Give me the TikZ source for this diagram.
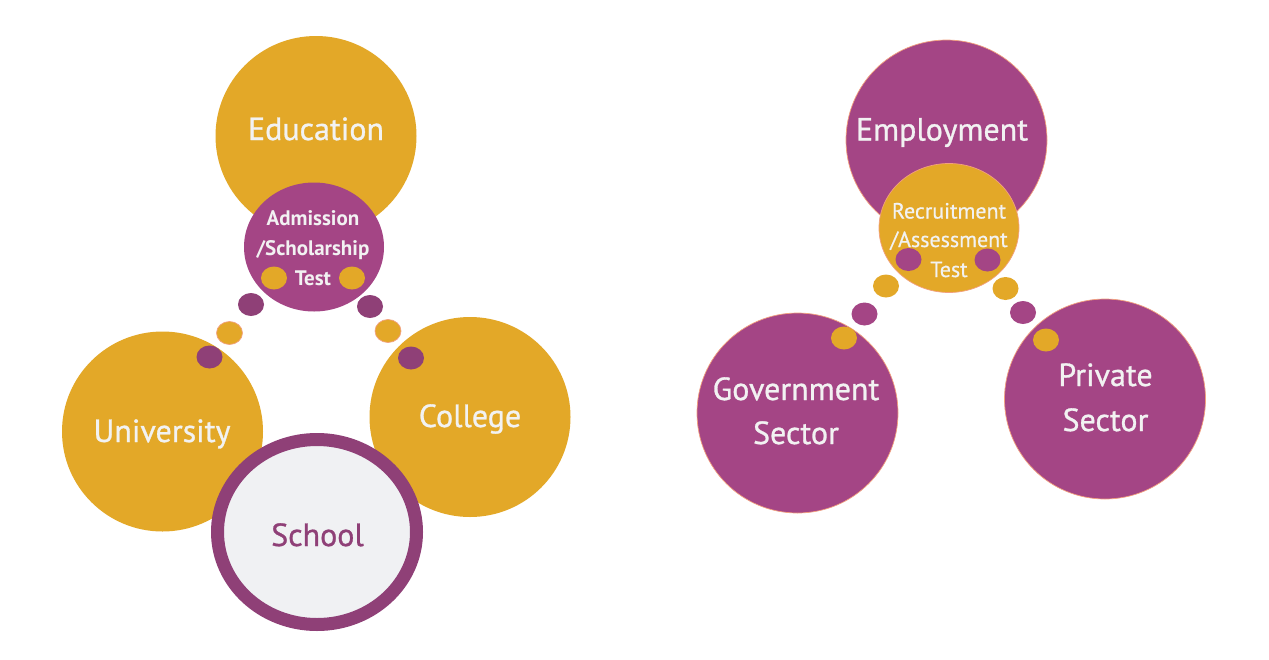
\documentclass[tikz,border=0pt]{standalone}
\usepackage{fontspec}
\setmainfont{PT Sans}
\newfontfamily\medfont[FakeBold=0.9]{PT Sans}
\newfontfamily\semifont[FakeBold=0.6]{PT Sans}
\usetikzlibrary{shapes.geometric}
\definecolor{gold}{HTML}{E3A828}
\definecolor{plum}{HTML}{A44585}
\definecolor{plumdark}{HTML}{8F4077}
\definecolor{txtlight}{HTML}{F2F2F2}
\definecolor{schoolfill}{HTML}{F0F1F3}
\definecolor{rim}{HTML}{F2A07E}
\tikzset{
  blob/.style={ellipse, inner sep=0pt, outer sep=0pt},
  bigc/.style={blob, minimum width=201pt, minimum height=200pt},
  midc/.style={blob, minimum width=140pt, minimum height=129pt},
  dotc/.style={blob, minimum width=26pt, minimum height=23pt},
  rimmed/.style={draw=rim, line width=0.7pt},
  bigtxt/.style={anchor=base, inner sep=0pt, text=txtlight, font=\medfont\fontsize{32}{32}\selectfont},
  admtxt/.style={anchor=base, inner sep=0pt, text=txtlight, font=\bfseries\fontsize{21}{21}\selectfont},
  rectxt/.style={anchor=base, inner sep=0pt, text=txtlight, font=\semifont\fontsize{22}{22}\selectfont},
  schooltxt/.style={anchor=base, inner sep=0pt, text=plumdark, font=\medfont\fontsize{32}{32}\selectfont}
}
\begin{document}
\begin{tikzpicture}[x=1pt,y=-1pt]
\useasboundingbox[fill=white] (0,0) rectangle (1269,659);
% ---------------- left diagram ----------------
\node[bigc, fill=gold] (edu) at (316,136) {};
\node[midc, fill=plum] (adm) at (314,247) {};
\node[bigc, fill=gold] (uni) at (162.5,431.5) {};
\node[bigc, fill=gold] (col) at (470,417) {};
\node[blob, minimum width=199pt, minimum height=185pt, fill=schoolfill, draw=plumdark, line width=13pt] (sch) at (317,532) {};
% dots
\node[dotc, fill=gold] (ad1) at (274,278) {};
\node[dotc, fill=gold] (ad2) at (352,278) {};
\node[dotc, fill=plumdark] (ul1) at (251,304.5) {};
\node[dotc, fill=gold, rimmed] (ul2) at (229.5,333) {};
\node[dotc, fill=plumdark] (ul3) at (209.5,357) {};
\node[dotc, fill=plumdark] (cr1) at (370,306.5) {};
\node[dotc, fill=gold, rimmed] (cr2) at (388,331) {};
\node[dotc, fill=plumdark] (cr3) at (411,358) {};
% texts
\node[bigtxt] (edut) at (316,140) {Education};
\node[admtxt] (adm1) at (313,225) {Admission};
\node[admtxt] (adm2) at (313,255) {/Scholarship};
\node[admtxt] (adm3) at (313,285) {Test};
\node[bigtxt] (unit) at (162,442) {University};
\node[bigtxt] (colt) at (470,427) {College};
\node[schooltxt] (scht) at (317.5,546) {School};
% ---------------- right diagram ----------------
\node[bigc, fill=plum, rimmed] (emp) at (946.5,140) {};
\node[midc, fill=gold, rimmed] (rec) at (949,228) {};
\node[bigc, fill=plum, rimmed] (gov) at (797.5,413) {};
\node[bigc, fill=plum, rimmed] (pri) at (1105,399) {};
% dots
\node[dotc, fill=plum] (rd1) at (908.5,259.5) {};
\node[dotc, fill=plum] (rd2) at (987.5,260) {};
\node[dotc, fill=gold] (gl1) at (886,286) {};
\node[dotc, fill=plum] (gl2) at (864.5,314) {};
\node[dotc, fill=gold] (gl3) at (844,338) {};
\node[dotc, fill=gold] (pr1) at (1005.5,288.5) {};
\node[dotc, fill=plum] (pr2) at (1023,312.5) {};
\node[dotc, fill=gold] (pr3) at (1046,340) {};
% texts
\node[bigtxt] (empt) at (942,140.5) {Employment};
\node[rectxt] (rec1) at (949,218.5) {Recruitment};
\node[rectxt] (rec2) at (949,247) {/Assessment};
\node[rectxt] (rec3) at (949,277) {Test};
\node[bigtxt] (gov1) at (796,400) {Government};
\node[bigtxt] (gov2) at (796,444) {Sector};
\node[bigtxt] (pri1) at (1105.5,386) {Private};
\node[bigtxt] (pri2) at (1105.5,431) {Sector};
\end{tikzpicture}
\end{document}
